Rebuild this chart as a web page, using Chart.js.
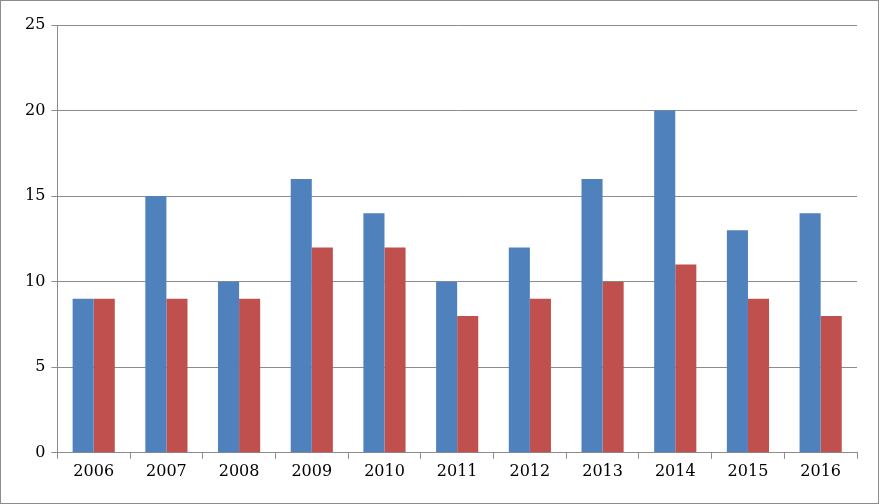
<!DOCTYPE html>
<html><head><meta charset="utf-8">
<script src="https://cdn.jsdelivr.net/npm/chart.js@4"></script>
<style>html,body{margin:0;padding:0;background:#fff}#w{width:877px;height:502px;border:1px solid #8c8c8c;position:relative}</style>
</head><body><div id="w"><canvas id="c"></canvas></div>
<script>
const categories=["2006","2007","2008","2009","2010","2011","2012","2013","2014","2015","2016"];
const seriesA=[9,15,10,16,14,10,12,16,20,13,14];
const seriesB=[9,9,9,12,12,8,9,10,11,9,8];
const yTicks=[0,5,10,15,20,25];
new Chart(document.getElementById('c'),{type:'bar',
data:{labels:categories,datasets:[
{data:seriesA,backgroundColor:'#4F81BD',categoryPercentage:0.58,barPercentage:1},
{data:seriesB,backgroundColor:'#C0504D',categoryPercentage:0.58,barPercentage:1}]},
options:{responsive:true,maintainAspectRatio:false,animation:false,
layout:{padding:{left:18,right:21,top:24,bottom:19}},
plugins:{legend:{display:false},tooltip:{enabled:false}},
scales:{
x:{grid:{offset:true,drawOnChartArea:false,color:'#8c8c8c',tickLength:6},border:{color:'#8c8c8c'},
ticks:{color:'#000',font:{family:'DejaVu Serif',size:16}}},
y:{min:0,max:25,afterBuildTicks:a=>{a.ticks=yTicks.map(v=>({value:v}));},
grid:{color:'#8c8c8c',tickLength:6},border:{color:'#8c8c8c'},
ticks:{color:'#000',padding:6,font:{family:'DejaVu Serif',size:16}}}}}});
</script></body></html>
